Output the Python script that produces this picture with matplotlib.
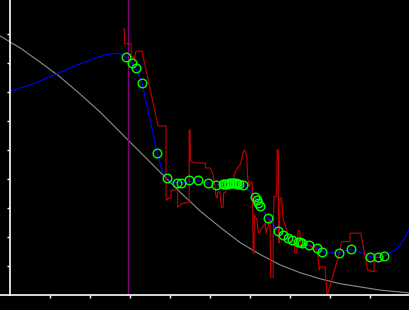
import numpy as np
from matplotlib import pyplot as plt

# reference curve (gray)
ref_x = [-0.25, 0.25, 0.75, 1.25, 1.75, 2.25, 2.75, 3.25, 3.75, 4.25, 4.75,
         5.25, 5.75, 6.25, 6.75, 7.25, 7.75, 8.25, 8.75, 9.25, 10.0]
ref_y = [8.93, 8.52, 8.03, 7.52, 6.93, 6.31, 5.62, 4.93, 4.24, 3.55, 2.90,
         2.34, 1.81, 1.40, 1.04, 0.77, 0.56, 0.39, 0.28, 0.17, 0.07]

# fitted curve (blue)
fit_x = [0.03, 0.5, 1.0, 1.5, 2.0, 2.4, 2.63, 2.75, 2.9, 3.05, 3.14, 3.3,
         3.68, 3.8, 3.93, 4.05, 4.18, 4.28, 4.48, 4.73, 4.95, 5.15, 5.35,
         5.5, 5.65, 5.83, 6.0, 6.13, 6.25, 6.45, 6.7, 6.83, 6.95, 7.05,
         7.25, 7.48, 7.68, 7.8, 7.93, 8.23, 8.53, 8.75, 9.0, 9.2, 9.35,
         9.5, 9.63, 9.75, 9.88, 10.0]
fit_y = [7.03, 7.24, 7.52, 7.83, 8.10, 8.29, 8.33, 8.31, 8.21, 8.0, 7.84, 7.31,
         4.90, 4.31, 4.03, 3.90, 3.86, 3.86, 3.93, 3.93, 3.86, 3.79, 3.83,
         3.86, 3.84, 3.79, 3.59, 3.38, 3.07, 2.66, 2.21, 2.07, 1.97, 1.90,
         1.84, 1.72, 1.62, 1.50, 1.45, 1.45, 1.58, 1.48, 1.32, 1.30, 1.33,
         1.45, 1.55, 1.72, 2.0, 2.34]

# sample points (green circles)
pts_x = [2.9, 3.06, 3.14, 3.3, 3.68, 3.93, 4.18, 4.28, 4.48, 4.71, 4.95, 5.14,
         5.32, 5.36, 5.40, 5.44, 5.48, 5.52, 5.56, 5.60, 5.64, 5.68, 5.72,
         5.82, 6.13, 6.17, 6.21, 6.26, 6.45, 6.71, 6.83, 6.96, 7.05, 7.19,
         7.25, 7.30, 7.48, 7.67, 7.81, 8.23, 8.53, 9.0, 9.21, 9.36]
pts_y = [8.21, 8.0, 7.84, 7.31, 4.90, 4.03, 3.86, 3.86, 3.95, 3.95, 3.86, 3.79,
         3.83, 3.83, 3.83, 3.84, 3.86, 3.87, 3.87, 3.86, 3.86, 3.84, 3.83,
         3.79, 3.38, 3.28, 3.16, 3.07, 2.66, 2.21, 2.07, 1.95, 1.90, 1.84,
         1.84, 1.80, 1.72, 1.61, 1.49, 1.44, 1.58, 1.32, 1.30, 1.33]

# raw signal (red)
raw_x = [2.83, 2.86, 2.86, 3.03, 3.03, 3.08, 3.10, 3.15, 3.30, 3.70, 3.90,
         3.90, 3.94, 3.95, 4.02, 4.03, 4.17, 4.19, 4.19, 4.29, 4.48, 4.48,
         4.50, 4.51, 4.63, 4.88, 4.89, 5.00, 5.08, 5.10, 5.13, 5.14, 5.18,
         5.19, 5.25, 5.26, 5.29, 5.33, 5.34, 5.39, 5.42, 5.46, 5.54, 5.58,
         5.63, 5.69, 5.75, 5.79, 5.83, 5.86, 5.89, 5.92, 5.94, 5.98, 6.01,
         6.05, 6.06, 6.08, 6.10, 6.11, 6.17, 6.21, 6.25, 6.30, 6.38, 6.40,
         6.44, 6.50, 6.52, 6.58, 6.58, 6.60, 6.65, 6.67, 6.68, 6.71, 6.71,
         6.73, 6.75, 6.79, 6.81, 6.83, 6.88, 6.93, 6.98, 7.05, 7.10, 7.13,
         7.17, 7.18, 7.21, 7.25, 7.27, 7.35, 7.45, 7.58, 7.63, 7.69, 7.71,
         7.73, 7.75, 7.88, 7.89, 7.93, 8.25, 8.29, 8.50, 8.50, 8.77, 8.94,
         9.10, 9.11, 9.20, 9.35]
raw_y = [9.17, 9.17, 8.66, 8.66, 8.21, 8.21, 8.10, 8.41, 8.41, 5.83, 5.83,
         3.28, 3.28, 3.34, 3.34, 3.62, 3.62, 3.62, 3.03, 3.14, 3.21, 5.69,
         5.69, 4.62, 4.55, 4.55, 4.38, 4.38, 4.14, 3.90, 3.72, 3.45, 3.34,
         3.55, 3.55, 3.28, 3.03, 3.03, 3.52, 3.55, 3.69, 3.79, 3.86, 3.97,
         4.24, 4.38, 4.48, 4.66, 4.93, 5.00, 4.93, 4.72, 4.07, 3.72, 3.90,
         3.90, 3.62, 1.45, 1.45, 2.76, 2.59, 2.14, 2.17, 2.31, 2.48, 2.14,
         2.31, 2.59, 0.62, 0.62, 1.90, 3.41, 3.38, 3.69, 5.00, 5.00, 1.90,
         1.79, 3.34, 3.34, 2.93, 2.59, 2.41, 2.17, 1.90, 1.79, 1.72, 1.45,
         1.45, 1.72, 2.24, 2.17, 1.72, 1.72, 1.72, 1.66, 1.62, 1.45, 1.14,
         0.86, 0.97, 0.97, 0.62, -0.03, 1.52, 1.84, 1.84, 2.13, 2.13, 0.86,
         0.80, 1.34, 1.28, 1.33]

marker_x = 2.96

fig = plt.figure(figsize=(4.1, 3.1), dpi=100, facecolor='black')
ax = fig.add_axes([0, 15/310, 1, 295/310])
ax.set_facecolor('black')

ax.plot(ref_x, ref_y, color='#8c8c8c', lw=0.8, clip_on=False)
ax.plot(fit_x, fit_y, color='#0000ff', lw=0.8)
ax.axvline(marker_x, color='#800080', lw=1.0)
ax.plot(raw_x, raw_y, color='#c80000', lw=0.8)
ax.plot(pts_x, pts_y, 'o', mfc='none', mec='#00ff00', ms=6.2, mew=1.0)

ax.set_xlim(-0.25, 10.0)
ax.set_ylim(0, 10.17)
ax.spines['left'].set_position(('data', 0))
ax.spines['top'].set_visible(False)
ax.spines['right'].set_visible(False)
for s in ['left', 'bottom']:
    ax.spines[s].set_color('white')
    ax.spines[s].set_linewidth(1.2)
ax.set_xticks(np.arange(1, 10))
ax.set_yticks(np.arange(1, 10))
ax.tick_params(colors='white', direction='out', length=2.5, width=1,
               labelleft=False, labelbottom=False)

fig.savefig('out.png', dpi=100, facecolor='black')
